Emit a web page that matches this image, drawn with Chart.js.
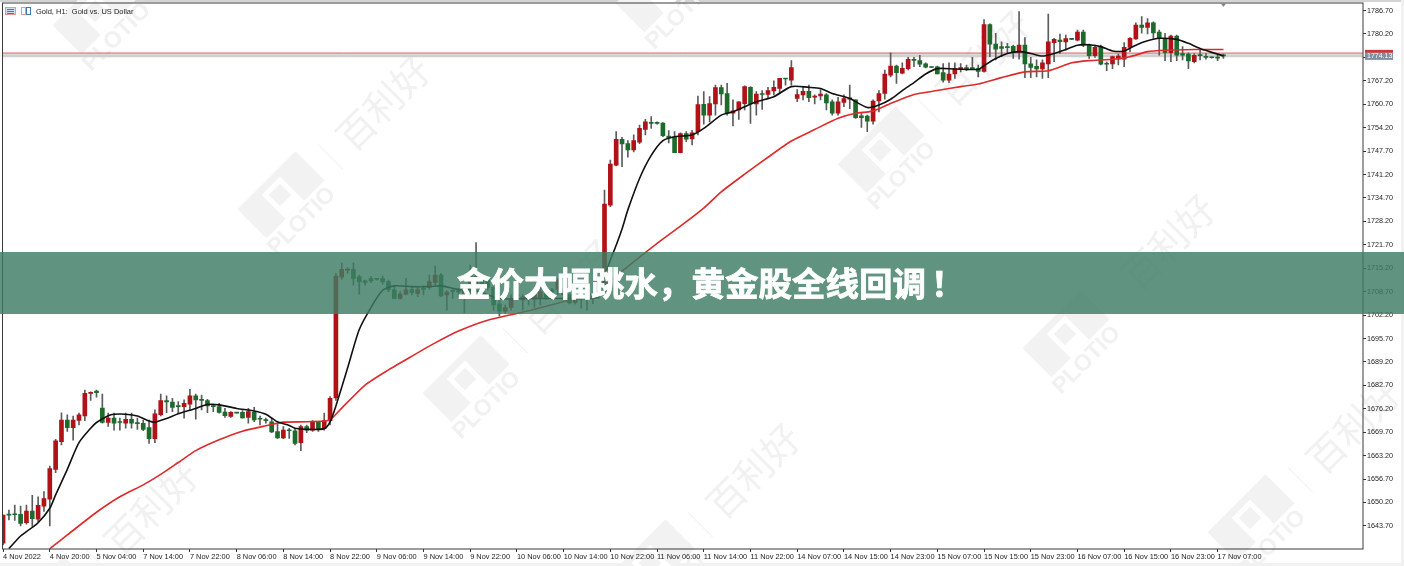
<!DOCTYPE html>
<html>
<head>
<meta charset="utf-8">
<title>Gold H1</title>
<script src="https://cdn.jsdelivr.net/npm/chart.js@4"></script>
<style>
  html, body { margin: 0; padding: 0; background: #fff; overflow: hidden; }
  #wrap { position: relative; width: 1404px; height: 566px; }
  canvas { display: block; }
  #symbol { position: absolute; left: 36px; top: 7px; font: 7.5px "Liberation Sans", sans-serif; color: #222; white-space: nowrap; }
  #banner { position: absolute; left: 0; top: 252px; width: 947px; padding-left: 457px; height: 62px; background: rgba(62,125,100,0.82);
            color: #fff; font: bold 33.5px "Noto Sans CJK SC", sans-serif; line-height: 60px; text-align: left; white-space: nowrap;
            -webkit-text-stroke: 0.8px #fff; }
  #banner span { position: relative; left: 5px; }
</style>
</head>
<body>
<div id="wrap">
  <canvas id="grafico" width="1404" height="566"></canvas>
  <div id="symbol">Gold, H1:&nbsp; Gold vs. US Dollar</div>
  <div id="banner">金价大幅跳水，黄金股全线回调<span>！</span></div>
</div>
<script>
// ==========================
// DATA (hourly candles)
// ==========================
const opens = [
  1638.9,1647,1647,1646.9,1644.6,1647.8,1645.6,1649.2,1651.1,1659.4,
  1667.1,1673.1,1671,1673,1674.2,1680.5,1681.1,1676.4,1672.4,1673.6,
  1672.5,1672.2,1673.3,1672.4,1672.2,1671,1667.9,1674.6,1678.5,1678.1,
  1677,1676.8,1677.5,1679.8,1678.8,1678.5,1677,1676.8,1675.3,1674.1,
  1675.1,1675.2,1673.8,1675.2,1673.5,1673.1,1672.6,1669.9,1668.1,1670.3,
  1670.1,1666.8,1671.3,1670.3,1672.5,1670.8,1672.9,1679.2,1712.7,1714.7,
  1714.9,1712.9,1711.7,1712.3,1712.2,1712.3,1711.5,1709.2,1706.8,1708,
  1709.3,1708.2,1709.6,1709.9,1711.2,1713.3,1707.8,1709,1709,1708,
  1709.6,1709.6,1711.9,1711.9,1709.9,1705.3,1703.3,1704.3,1707.8,1706.4,
  1706.8,1706.6,1706.8,1708.2,1709.2,1709.3,1707.8,1707.8,1705.7,1706.8,
  1707.3,1707.8,1707.8,1709.5,1732.7,1743.8,1751,1749.8,1748,1750.2,
  1753.7,1755.6,1755.6,1755.5,1751.9,1751.7,1747.3,1752.6,1751.1,1753.1,
  1760.7,1757.7,1760.8,1765.3,1763.7,1758.2,1759.1,1760.9,1765.4,1760.8,
  1763.7,1763.4,1764.4,1765.1,1767.9,1767.4,1762.3,1763.3,1764.3,1762.7,
  1763,1763.3,1761.4,1758.2,1761.2,1762.1,1761.9,1757.5,1757.4,1756,
  1761.6,1763.7,1768.8,1771.3,1769.3,1770.6,1773.1,1772.8,1771.9,1771.1,
  1771.1,1769.5,1767.4,1769.1,1770.6,1770.9,1770.8,1770.6,1769.8,1782.8,
  1777.4,1776.7,1776.7,1776.8,1775.1,1777.1,1771.9,1771.2,1770.5,1771.9,
  1777.8,1778.5,1778,1778.8,1778.5,1780.7,1777.2,1774.2,1776.7,1772,
  1771.9,1773.2,1773.2,1776.5,1778.8,1782.7,1782,1783.3,1780.7,1778.9,
  1775,1779.6,1774.8,1774.6,1772.5,1774.4,1774,1773.7,1773.7,1774.3
];
const highs = [
  1646.7,1648.1,1649.5,1649.2,1649.5,1652.2,1651.8,1653.2,1660.3,1667.7,
  1675.1,1674.5,1674.2,1675,1681.4,1680.9,1681.4,1680.3,1675,1675,
  1673.6,1675,1675,1673.6,1673.1,1673.1,1675.9,1680.3,1679.8,1679.1,
  1678.2,1678.7,1681.6,1680.3,1680,1678.8,1677.5,1677.7,1676.3,1675.4,
  1675.1,1675.7,1676.3,1676.6,1674.2,1673.6,1673.6,1672.2,1671.3,1670.8,
  1670.8,1671.7,1671.7,1672.9,1672.6,1675,1679.6,1713.8,1716.7,1715.4,
  1716.7,1713.3,1711.9,1712.9,1712.3,1713,1711.9,1710.5,1708.7,1712.4,
  1710.1,1709.9,1710.3,1713.3,1715.8,1713.8,1709,1709.3,1709.6,1710.1,
  1716.1,1722.3,1712.4,1712.4,1710.5,1707.3,1705,1707.8,1708.2,1707.8,
  1708,1709.2,1710.1,1709.2,1709.6,1712.4,1710.1,1708.2,1707.8,1707.8,
  1708.2,1708.2,1709.2,1736.9,1745.2,1753.1,1751.5,1750.6,1752.2,1754.9,
  1756.5,1757.3,1755.8,1755.6,1753.4,1753.1,1752.8,1753.1,1753.5,1763,
  1764.2,1762.8,1766,1766,1766.5,1761.9,1761.4,1765.8,1765.6,1764.2,
  1764.5,1765.4,1767.2,1767.9,1767.9,1772.8,1764.8,1765.6,1766,1763.3,
  1764.8,1763.7,1761.9,1762.6,1763.3,1766,1761.9,1758.2,1757.7,1761.9,
  1764.5,1770.2,1775,1771.6,1772.2,1773.7,1773.7,1774.3,1772.2,1771.1,
  1771.3,1772,1772.2,1772.2,1772,1771.6,1773.7,1771.6,1784.2,1783,
  1780.4,1778,1777.6,1777.1,1786.4,1779.2,1773.7,1773,1773,1785.7,
  1779,1780.2,1779.9,1778.9,1781.3,1781.3,1777.4,1777.1,1777.1,1772.5,
  1774.1,1774.6,1777.8,1779.2,1783.3,1785,1784.5,1783.6,1781.3,1780.4,
  1779.9,1779.9,1776.7,1775,1774.8,1775.9,1774.8,1773.8,1774.3,1774.6
];
const lows = [
  1638.4,1645.4,1645.2,1643.7,1644.2,1643.5,1644.9,1647.7,1643.7,1658.5,
  1666.2,1669.9,1667.5,1671.7,1672.9,1678.5,1679.4,1672.2,1671.3,1670.3,
  1670.3,1670.8,1670.8,1670.5,1670.1,1666.6,1666.8,1674.2,1675.1,1675.4,
  1675,1673.6,1675.7,1673.3,1675.9,1675.1,1675.4,1675,1673.8,1673.8,
  1675,1673.6,1672.2,1672.6,1671.7,1672.2,1669.6,1668,1667.9,1668,
  1666.2,1664.6,1669.6,1669.9,1669.9,1670.3,1671.7,1678.5,1712.1,1713.8,
  1710.5,1708,1710.5,1711.2,1711.9,1710.8,1708.7,1706.7,1706.6,1707.8,
  1707.8,1707.3,1707.8,1709.3,1710.1,1707.3,1703.6,1706.8,1707.3,1702.9,
  1708.2,1708.7,1708.2,1709.2,1703.6,1701.9,1702.7,1703.6,1706.4,1703.6,
  1705,1704.3,1705,1706.6,1706.8,1707.8,1706.8,1705.3,1705.3,1704.1,
  1703.6,1705.4,1706.8,1708,1732.3,1743.6,1743.4,1746,1747.5,1749.8,
  1752.2,1754,1755.2,1751.7,1750,1747.3,1747.2,1750.3,1749.4,1752.2,
  1755.2,1755.8,1757.7,1760.5,1757.7,1754.7,1756.5,1759.1,1755.4,1757.7,
  1759.3,1762.3,1763.3,1763.7,1766,1766,1761.4,1761.9,1761.4,1760.8,
  1761.9,1759.1,1757.7,1757.7,1760,1759.5,1756.8,1754.3,1753.1,1755.2,
  1758.6,1762.1,1768.3,1766.5,1769.1,1770.2,1771.1,1771.1,1770.8,1770.9,
  1769.1,1766.8,1766.7,1767.9,1769.7,1770,1770.6,1768.3,1769.6,1773.9,
  1773,1773.9,1774.8,1773.4,1773.2,1768.1,1768.1,1768.3,1767.9,1768.1,
  1772.5,1774.8,1775.7,1778.6,1778.3,1776.7,1773.4,1773.7,1771.6,1770,
  1770.6,1771.6,1771.1,1775.3,1778.7,1780.4,1780.2,1779,1774.3,1772.8,
  1772.5,1772.8,1773,1770.6,1772.2,1773,1773.2,1773.5,1772.8,1773.4
];
const closes = [
  1646.7,1646.7,1646.8,1644.4,1647.8,1645.7,1649.4,1651.3,1659.6,1667.3,
  1673.1,1671,1673.1,1674.5,1680.5,1680.7,1680.7,1672.4,1673.6,1672.2,
  1672.4,1673.3,1672.2,1672.1,1670.5,1667.9,1674.8,1678.5,1678.1,1676.6,
  1676.8,1677.7,1679.8,1678.7,1678.5,1677,1676.8,1675.2,1674.3,1675.2,
  1675,1673.7,1675.4,1673.1,1673.3,1672.9,1669.8,1668.1,1670.3,1670.1,
  1666.6,1671.3,1670.3,1672.6,1670.5,1672.9,1679.1,1713,1714.9,1714.9,
  1712.4,1711.4,1711.3,1711.7,1712.1,1711.4,1709.2,1706.8,1708,1709.2,
  1708.4,1709.3,1709.3,1711.5,1713.3,1707.5,1708.6,1708.8,1708.6,1709.6,
  1713.8,1712.9,1709.2,1709.9,1705,1703.3,1704.3,1706.8,1707.5,1707.3,
  1706.7,1708.2,1708.7,1707.1,1708.7,1711.9,1709.6,1705.6,1706.8,1706.7,
  1706.8,1707.3,1708.7,1733,1744.1,1751,1749.7,1748,1750.6,1754,
  1755.8,1755.4,1755.4,1752,1751.4,1747.3,1752.6,1751,1752.8,1760.6,
  1757.7,1760.9,1765.3,1763.6,1758.2,1758.9,1761.4,1765.6,1760.9,1763.5,
  1763.4,1764.5,1765.4,1767.9,1767.7,1770.9,1763.4,1764.3,1762.5,1763,
  1763.5,1761.1,1758.2,1761.4,1762.3,1762.5,1757,1757,1756,1761.6,
  1763.7,1769.1,1771.3,1769.5,1770.7,1773.2,1772.9,1771.8,1771,1770.9,
  1769.1,1767.4,1769.1,1770.6,1770.9,1770.6,1770.6,1769.8,1782.8,1777.4,
  1776,1776.2,1776.4,1775,1777.1,1771.9,1770.9,1770.5,1772.2,1778,
  1778.7,1778.1,1778.9,1778.7,1780.7,1777.1,1774.2,1776.5,1771.8,1771.8,
  1773.9,1774.1,1776.5,1779,1782.7,1782,1783.3,1780.5,1779,1775,
  1779.6,1774.3,1774.3,1772.7,1774.3,1774.2,1773.7,1773.6,1773.5,1774.13
];

// moving averages, read at these bars only
const blackBars = [1,3,4,6,8,9,11,13,15,16,18,19,21,23,25,26,28,30,33,35,37,40,43,45,47,49,50,52,55,56,57,59,61,63,65,67,70,73,75,78,81,85,90,95,100,102,103,104,105,106,107,109,111,113,115,118,120,123,125,127,129,132,135,138,140,142,145,148,150,152,154,156,158,160,163,167,168,170,172,174,176,178,180,182,184,186,188,190,192,194,196,198,201,203,205,209];
const blackMA = [1637.4,1640.9,1642.1,1644.6,1648.6,1652.3,1659.4,1666.8,1670.8,1672.4,1674.3,1674.7,1674.7,1674.2,1672.8,1672.5,1673.5,1674.8,1676.3,1677.4,1677.3,1676.3,1675.6,1674.7,1672.6,1671.6,1670.8,1670.5,1670.7,1672.6,1677,1687.5,1698.2,1704.3,1709.1,1710.3,1710.1,1710.1,1710.3,1709.3,1709,1706.8,1706.8,1706.8,1706.8,1707.3,1712.9,1717.5,1721.6,1726.1,1731.4,1740.1,1746.5,1750.6,1751.7,1752.2,1754,1757.7,1758.6,1760,1761.4,1762.8,1765.6,1765.4,1765.1,1763.7,1762.3,1759.8,1760.5,1762.1,1764.5,1766.7,1769.1,1770.6,1770.5,1770.4,1771.4,1773.4,1774.8,1775.3,1774.8,1774.1,1774.8,1775.9,1777.1,1777.2,1776.7,1775.5,1775.5,1777.1,1778.3,1779,1778.7,1777.6,1776.2,1774.1];
const redBars = [8,11,16,20,24,27,30,33,37,41,45,48,52,55,56,58,62,66,70,74,78,83,90,97,101,103,106,112,116,120,123,127,131,135,139,143,146,149,152,156,160,164,167,171,175,179,183,186,190,193,196,199,204,209];
const redMA = [1637.4,1641.2,1647.5,1651.8,1655.1,1658,1661.3,1664.6,1667.6,1670,1671.5,1672.5,1672.6,1672.8,1673.1,1676.4,1682.8,1687,1690.8,1694.5,1697.8,1700.8,1703.4,1706.4,1708.2,1710.5,1714.4,1722.1,1726.9,1731.9,1736.4,1741.3,1746,1750.5,1753.7,1756.8,1758.2,1758.8,1760.9,1763.4,1764.5,1765.6,1766.3,1768.1,1769.7,1770,1772.2,1772.8,1773.2,1773.9,1775.3,1775.7,1775.9,1775.9];

const dateLabels = ["4 Nov 2022","4 Nov 20:00","5 Nov 04:00","7 Nov 14:00","7 Nov 22:00","8 Nov 06:00","8 Nov 14:00","8 Nov 22:00","9 Nov 06:00","9 Nov 14:00","9 Nov 22:00","10 Nov 06:00","10 Nov 14:00","10 Nov 22:00","11 Nov 06:00","11 Nov 14:00","11 Nov 22:00","14 Nov 07:00","14 Nov 15:00","14 Nov 23:00","15 Nov 07:00","15 Nov 15:00","15 Nov 23:00","16 Nov 07:00","16 Nov 15:00","16 Nov 23:00","17 Nov 07:00"];
const dateBars = [0,8,16,24,32,40,48,56,64,72,80,88,96,104,112,120,128,136,144,152,160,168,176,184,192,200,208];
const priceTicks = [1643.7,1650.2,1656.7,1663.2,1669.7,1676.2,1682.7,1689.2,1695.7,1702.2,1708.7,1715.2,1721.7,1728.2,1734.7,1741.2,1747.7,1754.2,1760.7,1767.2,1773.7,1780.2,1786.7];

const bidPrice = 1774.13;
const alertPrice = 1774.9;

const logoSpots = [[95,11],[280,195],[465,379],[650,563],[48,600],[658,-11],[880,150],[1065,334],[1250,518]];

// ==========================
// CHART
// ==========================
const X_MIN = -0.1, X_MAX = 232.9;
const VERMELHO = "#b01217", VERDE = "#1d6b2c";

// cantos da tela, marca d'água e moldura
const moldura = {
    id: "moldura",
    beforeDraw(chart) {
        const c = chart.ctx;
        c.save();
        c.fillStyle = "#fff";
        c.fillRect(0, 0, 1404, 566);
        c.fillStyle = "#d4d4d4";
        c.fillRect(0, 0, 1404, 2);
        c.fillStyle = "#f1f1f1";
        c.fillRect(0, 563, 1404, 3);
        c.fillRect(1401, 0, 3, 566);

        logoSpots.forEach(([x, y]) => {
            c.save();
            c.translate(x, y);
            c.rotate(-Math.PI / 4);
            c.fillStyle = "#f2f2f2";
            c.fillRect(-40, -20, 82, 41);
            c.fillStyle = "#fff";
            c.fillRect(-13, -13, 26, 34);
            c.fillStyle = "#f2f2f2";
            c.fillRect(-8, -8, 16, 16);
            c.fillStyle = "#f1f1f1";
            c.font = "bold 23px 'Liberation Sans'";
            c.textAlign = "center";
            c.textBaseline = "middle";
            c.fillText("PLOTIO", -3, 34);
            c.fillStyle = "#f2f2f2";
            c.fillRect(62, -9, 1, 35);
            c.font = "38px 'Noto Sans CJK SC'";
            c.fillStyle = "#f1f1f1";
            c.fillText("百利好", 138, 8);
            c.restore();
        });
        c.restore();
    },
    afterDraw(chart) {
        const c = chart.ctx, a = chart.chartArea, y = chart.scales.y, x = chart.scales.x;
        c.save();
        c.strokeStyle = "#3a3a3a";
        c.lineWidth = 1;
        c.strokeRect(a.left, a.top, a.right - a.left, a.bottom - a.top);

        // etiquetas de preço
        const py = y.getPixelForValue(bidPrice);
        c.fillStyle = "#c8383a";
        c.fillRect(1365, py - 6, 28, 3);
        c.fillStyle = "#7f8ea0";
        c.fillRect(1365, py - 3, 28, 7);
        c.fillStyle = "#fff";
        c.font = "7px 'Liberation Sans'";
        c.textBaseline = "middle";
        c.fillText(bidPrice.toFixed(2), 1367, py + 0.5);

        // triângulo da última barra
        const tx = x.getPixelForValue(opens.length - 1);
        c.fillStyle = "#8a8a8a";
        c.beginPath();
        c.moveTo(tx - 3, a.top);
        c.lineTo(tx + 3, a.top);
        c.lineTo(tx, a.top + 4);
        c.fill();

        // ícones do título
        c.lineWidth = 1;
        c.strokeStyle = "#e59a8c";
        c.fillStyle = "#cfe0f2";
        c.fillRect(5.5, 7.5, 10, 7);
        c.strokeRect(5.5, 7.5, 10, 7);
        c.strokeStyle = "#3f78b5";
        c.beginPath();
        [9.5, 11.5, 13.5].forEach(h => { c.moveTo(7, h); c.lineTo(14, h); });
        c.stroke();
        c.strokeStyle = "#e59a8c";
        c.strokeRect(21.5, 7.5, 4, 7);
        c.strokeStyle = "#3f78b5";
        c.strokeRect(26.5, 7.5, 4, 7);
        c.restore();
    }
};

new Chart(document.getElementById("grafico"), {
    type: "bar",
    plugins: [moldura],
    data: {
        datasets: [
            {
                type: "line", label: "MA rápida", order: 1,
                data: blackBars.map((b, i) => ({ x: b, y: blackMA[i] })),
                borderColor: "#111", borderWidth: 1.6, pointRadius: 0, tension: 0.25
            },
            {
                type: "line", label: "MA lenta", order: 2,
                data: redBars.map((b, i) => ({ x: b, y: redMA[i] })),
                borderColor: "#dc2b2a", borderWidth: 1.6, pointRadius: 0, tension: 0.2
            },
            {
                label: "Corpo", order: 3, grouped: false, barThickness: 4, minBarLength: 1,
                data: opens.map((o, i) => ({ x: i, y: [o, closes[i]] })),
                backgroundColor: opens.map((o, i) => closes[i] >= o ? VERMELHO : VERDE)
            },
            {
                label: "Pavio", order: 4, grouped: false, barThickness: 1,
                data: highs.map((h, i) => ({ x: i, y: [lows[i], h] })),
                backgroundColor: "#5c5c5c"
            },
            {
                type: "line", label: "Alerta", order: 5,
                data: [{ x: X_MIN, y: alertPrice }, { x: X_MAX, y: alertPrice }],
                borderColor: "#d2555a", borderWidth: 1, pointRadius: 0
            },
            {
                type: "line", label: "Bid", order: 6,
                data: [{ x: X_MIN, y: bidPrice }, { x: X_MAX, y: bidPrice }],
                borderColor: "#d0d0d0", borderWidth: 3, pointRadius: 0
            }
        ]
    },
    options: {
        responsive: false,
        animation: false,
        layout: { autoPadding: false, padding: { left: 2.5, top: 3 } },
        plugins: { legend: { display: false }, tooltip: { enabled: false } },
        scales: {
            x: {
                type: "linear",
                min: X_MIN,
                max: X_MAX,
                offset: false,
                afterFit: s => { s.height = 17; s.paddingLeft = 0; s.paddingRight = 0; },
                afterBuildTicks: s => { s.ticks = dateBars.map(v => ({ value: v })); },
                border: { display: false },
                grid: { drawOnChartArea: false, tickLength: 3, color: "#333", offset: false },
                ticks: {
                    autoSkip: false, maxRotation: 0, align: "start", padding: 1,
                    color: "#222", font: { family: "Liberation Sans", size: 7.4 },
                    callback: v => dateLabels[dateBars.indexOf(v)]
                }
            },
            y: {
                position: "right",
                min: 1637.3,
                max: 1788.8,
                afterFit: s => { s.width = 41; s.paddingTop = 0; s.paddingBottom = 0; },
                afterBuildTicks: s => { s.ticks = priceTicks.map(v => ({ value: v })); },
                border: { display: false },
                grid: { drawOnChartArea: false, tickLength: 3, color: "#333" },
                ticks: {
                    autoSkip: false, padding: 1,
                    color: "#222", font: { family: "Liberation Sans", size: 7.2 },
                    callback: v => v.toFixed(2)
                }
            }
        }
    }
});
</script>
</body>
</html>
